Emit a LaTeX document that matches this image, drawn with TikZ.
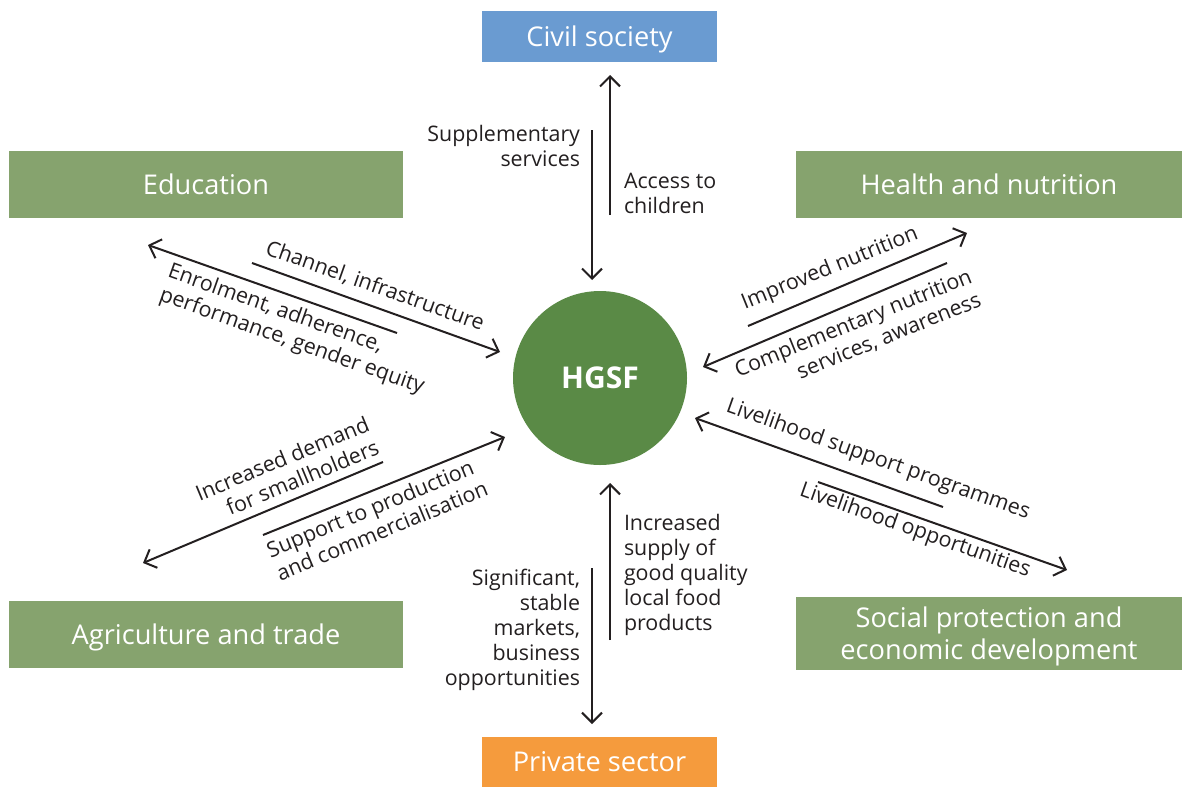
\documentclass[tikz,border=0pt]{standalone}
\usepackage{fontspec}
\setmainfont{Open Sans}
\usetikzlibrary{positioning,arrows.meta}

\definecolor{sectgreen}{HTML}{86A36E}
\definecolor{civblue}{HTML}{6A9BD1}
\definecolor{privorange}{HTML}{F59B3D}
\definecolor{hubgreen}{HTML}{5A8A46}
\definecolor{ink}{HTML}{231F20}

\begin{document}
\begin{tikzpicture}[%
        x=0.5pt,y=-0.5pt,
        ->,
        >={Straight Barb[length=5pt,width=10pt]},
        line width=1pt,
        color=ink,
        sector/.style={%
          rectangle,
          fill=sectgreen,
          text=white,
          minimum width=197pt,
          minimum height=33.5pt,
          text depth=0pt,
          font=\fontsize{13.6}{16}\selectfont,
          align=center
        },
        hub/.style={%
          circle,
          fill=hubgreen,
          text=white,
          minimum size=87pt,
          font=\bfseries\fontsize{15}{18}\selectfont
        },
        lbl/.style={%
          inner sep=0pt,
          text=ink,
          font=\fontsize{10.7}{12.5}\selectfont
        }
      ]
      \useasboundingbox (0,0) rectangle (1182,787);
      \node[hub] (hgsf) at (600,378) {HGSF};
      \node[sector,fill=civblue,minimum width=117.5pt,minimum height=25.5pt] (civ) at (599.5,36.5) {Civil society};
      \node[sector,fill=privorange,minimum width=117.5pt,minimum height=25pt] (priv) at (599.5,762) {Private sector};
      \node[sector] (edu) at (206,184.5) {Education};
      \node[sector,minimum width=193pt] (hea) at (989,184.5) {Health and nutrition};
      \node[sector] (agr) at (206,634.5) {Agriculture and trade};
      \node[sector,minimum width=193pt,minimum height=36.5pt] (soc) at (989,633.5) {Social protection and\\economic development};

      % labels
      \node[lbl,anchor=east,align=right] (sup) at (581,146) {Supplementary\\services};
      \node[lbl,anchor=west,align=left] (acc) at (623,193) {Access to\\children};
      \node[lbl,anchor=west,align=left] (inc) at (623,575) {Increased\\supply of\\good quality\\local food\\products};
      \node[lbl,anchor=east,align=right] (sig) at (581,630) {Significant,\\stable\\markets,\\business\\opportunities};
      \node[lbl,rotate=-19.5] (chan) at (375,286) {Channel, infrastructure};
      \node[lbl,rotate=-19.5,align=left] (enr) at (296,330) {Enrolment, adherence,\\performance, gender equity};
      \node[lbl,rotate=22] (imp) at (830,269) {Improved nutrition};
      \node[lbl,rotate=22,align=right] (comp) at (858,335) {Complementary nutrition\\services, awareness};
      \node[lbl,rotate=-19.5] (lsp) at (878,460) {Livelihood support programmes};
      \node[lbl,rotate=-19.5] (lop) at (915,531) {Livelihood opportunities};
      \node[lbl,rotate=22.5,align=right] (dem) at (287,470) {Increased demand\\for smallholders};
      \node[lbl,rotate=22.5,align=left] (prod) at (377,519) {Support to production\\and commercialisation};

      % arrow ends
      \coordinate (t1) at (610,215); \coordinate (t2) at (610,75);
      \coordinate (t3) at (592,130); \coordinate (t4) at (592,280);
      \coordinate (b1) at (610,640); \coordinate (b2) at (610,483);
      \coordinate (b3) at (592,568); \coordinate (b4) at (592,724);
      \coordinate (ul1) at (252,263); \coordinate (ul2) at (500,352);
      \coordinate (ul3) at (397,333); \coordinate (ul4) at (148,245);
      \coordinate (ur1) at (748,326); \coordinate (ur2) at (967,233);
      \coordinate (ur3) at (947,263); \coordinate (ur4) at (703,367);
      \coordinate (lr1) at (943,507); \coordinate (lr2) at (695,418);
      \coordinate (lr3) at (818,482); \coordinate (lr4) at (1067,570);
      \coordinate (ll1) at (383,462); \coordinate (ll2) at (143,563);
      \coordinate (ll3) at (263,535); \coordinate (ll4) at (505,437);

      \path (t1) edge (t2)
      (t3) edge (t4)
      (b1) edge (b2)
      (b3) edge (b4)
      (ul1) edge (ul2)
      (ul3) edge (ul4)
      (ur1) edge (ur2)
      (ur3) edge (ur4)
      (lr1) edge (lr2)
      (lr3) edge (lr4)
      (ll1) edge (ll2)
      (ll3) edge (ll4);
  \end{tikzpicture}
\end{document}
